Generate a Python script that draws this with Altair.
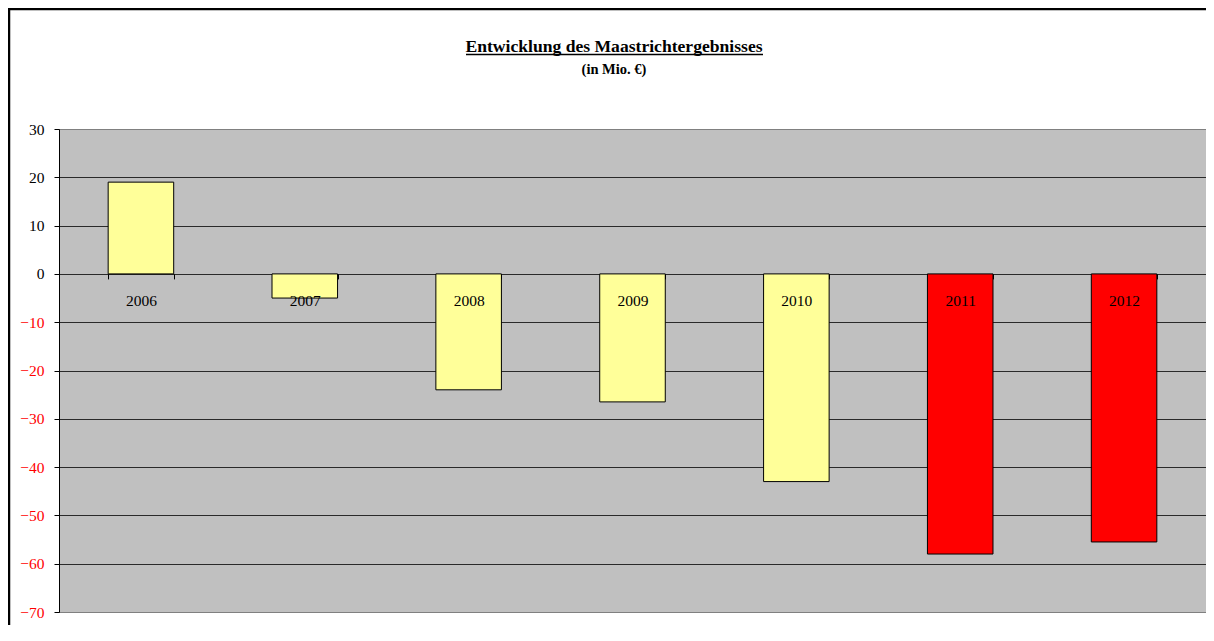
import altair as alt
import pandas as pd

# ---- data ----
years = ["2006", "2007", "2008", "2009", "2010", "2011", "2012"]
values = [19, -5, -24, -26.5, -43, -58, -55.5]
highlight_years = ["2011", "2012"]
y_ticks = [30, 20, 10, 0, -10, -20, -30, -40, -50, -60, -70]

title_text = "Entwicklung des Maastrichtergebnisses"
subtitle_text = "(in Mio. €)"

df = pd.DataFrame({"year": years, "value": values})

FONT = "Liberation Serif"
W, H = 1147, 483
ZERO_Y = H * 30 / 100  # pixel position of zero line from top

bars = alt.Chart(df).mark_bar(stroke="black", strokeWidth=1).encode(
    x=alt.X(
        "year:N",
        sort=years,
        scale=alt.Scale(paddingInner=0.6, paddingOuter=0.3),
        axis=alt.Axis(
            orient="bottom",
            offset=-(H - ZERO_Y),
            domain=False,
            grid=False,
            tickBand="extent",
            tickColor="black",
            tickSize=5,
            tickWidth=1,
            labelAngle=0,
            labelFont=FONT,
            labelFontSize=15.5,
            labelColor="black",
            labelPadding=15,
            title=None,
            zindex=1,
        ),
    ),
    y=alt.Y(
        "value:Q",
        scale=alt.Scale(domain=[-70, 30], nice=False, zero=True),
        axis=alt.Axis(
            values=y_ticks,
            title=None,
            grid=True,
            gridColor=alt.ExprRef(expr="datum.value == 30 || datum.value == -70 ? '#808080' : '#2a2a2a'"),
            gridWidth=1,
            domainColor="black",
            domainWidth=1,
            tickColor="black",
            tickSize=5,
            labelPadding=10,
            labelFont=FONT,
            labelFontSize=15.5,
            labelColor=alt.ExprRef(expr="datum.value < 0 ? '#FF0000' : '#000000'"),
        ),
    ),
    color=alt.condition(
        alt.FieldOneOfPredicate(field="year", oneOf=highlight_years),
        alt.value("#FF0000"),
        alt.value("#FFFF99"),
    ),
)

one = alt.Data(values=[{"k": 1}])

title_mark = alt.Chart(one).mark_text(
    text=title_text, font=FONT, fontSize=17.6, fontWeight="bold",
    align="center", baseline="alphabetic", color="black"
).encode(x=alt.value(555), y=alt.value(-77))

underline = alt.Chart(one).mark_rule(color="black", strokeWidth=1.5).encode(
    x=alt.value(407), x2=alt.value(704), y=alt.value(-74.5)
)

subtitle_mark = alt.Chart(one).mark_text(
    text=subtitle_text, font=FONT, fontSize=14.5, fontWeight="bold",
    align="center", baseline="alphabetic", color="black"
).encode(x=alt.value(555), y=alt.value(-55))

frame_top = alt.Chart(one).mark_rule(color="black", strokeWidth=2.5).encode(
    x=alt.value(-51), x2=alt.value(W + 10), y=alt.value(-120)
)
frame_left = alt.Chart(one).mark_rule(color="black", strokeWidth=2.5).encode(
    x=alt.value(-50), y=alt.value(-121), y2=alt.value(H + 14)
)

chart = alt.layer(
    bars, title_mark, underline, subtitle_mark, frame_top, frame_left
).properties(
    width=W,
    height=H,
    autosize=alt.AutoSizeParams(type="none"),
    padding={"left": 51, "top": 121, "right": 0, "bottom": 13},
).configure_view(
    fill="#C0C0C0", stroke="#808080", strokeWidth=1
)

chart.save("out.html", embed_options={"renderer": "svg", "actions": False})
